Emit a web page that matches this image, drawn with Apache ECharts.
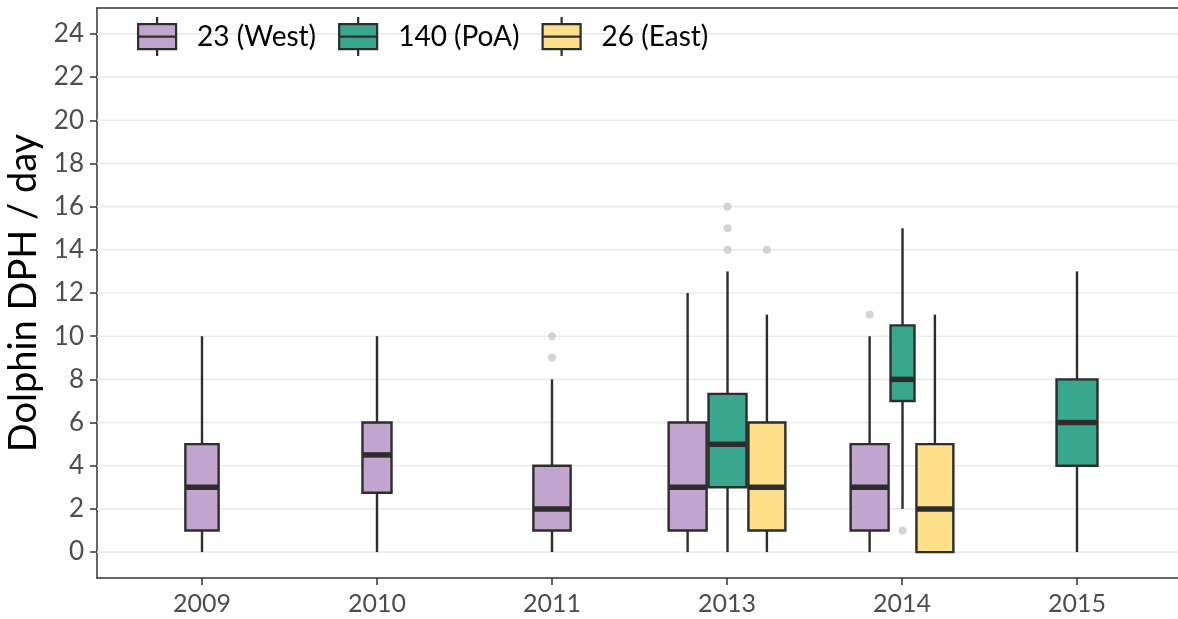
<!DOCTYPE html>
<html>
<head>
<meta charset="utf-8">
<script src="https://cdn.jsdelivr.net/npm/echarts@6/dist/echarts.min.js"></script>
<style>
html,body{margin:0;padding:0;background:#fff;}
#chart{width:1178px;height:619px;}
</style>
</head>
<body>
<div id="chart"></div>
<script>
// ---- data ----
const categories = ['2009', '2010', '2011', '2013', '2014', '2015'];
const groupNames = ['23 (West)', '140 (PoA)', '26 (East)'];
// [categoryIndex, min, q1, median, q3, max]
const westStats = [[0, 0, 1, 3, 5, 10], [1, 0, 2.75, 4.5, 6, 10], [2, 0, 1, 2, 4, 8], [3, 0, 1, 3, 6, 12], [4, 0, 1, 3, 5, 10]];
const poaStats = [[3, 0, 3, 5, 7.33, 13], [4, 2, 7, 8, 10.5, 15], [5, 0, 4, 6, 8, 13]];
const eastStats = [[3, 0, 1, 3, 6, 11], [4, 0, 0, 2, 5, 11]];
// [categoryIndex, value]
const westOutliers = [[2, 9], [2, 10], [4, 11]];
const poaOutliers = [[3, 14], [3, 15], [3, 16], [4, 1]];
const eastOutliers = [[3, 14]];
const yTicks = [0, 2, 4, 6, 8, 10, 12, 14, 16, 18, 20, 22, 24];
const xTicks = [0, 1, 2, 3, 4, 5];

// ---- styling ----
const colors = ['#C2A5CF', '#38A78E', '#FEE08B'];
const edge = '#2d2d2d';
// relative box widths (fraction of category spacing), per group per category index
const boxWidths = [
  {0: 0.19, 1: 0.166, 2: 0.213, 3: 0.217, 4: 0.217},
  {3: 0.217, 4: 0.137, 5: 0.234},
  {3: 0.211, 4: 0.211}
];
const dodgeGap = 0.011;
const allStats = [westStats, poaStats, eastStats];
const allOutliers = [westOutliers, poaOutliers, eastOutliers];
const X_MIN = -0.6, X_MAX = 5.6;

function centerOf(gi, cat) {
  const present = [];
  for (let g = 0; g < allStats.length; g++) {
    if (allStats[g].some(r => r[0] === cat)) present.push(g);
  }
  let total = 0;
  present.forEach((g, k) => { total += boxWidths[g][cat] + (k > 0 ? dodgeGap : 0); });
  let x = cat - total / 2;
  for (let k = 0; k < present.length; k++) {
    const g = present[k];
    const w = boxWidths[g][cat];
    if (g === gi) return x + w / 2;
    x += w + dodgeGap;
  }
  return cat;
}

function makeBoxSeries(gi) {
  return {
    name: groupNames[gi],
    type: 'custom',
    z: 3,
    itemStyle: {color: colors[gi]},
    encode: {x: 0, y: [1, 5]},
    data: allStats[gi],
    renderItem: function (params, api) {
      const cat = api.value(0);
      const mn = api.value(1), q1 = api.value(2), md = api.value(3), q3 = api.value(4), mx = api.value(5);
      const w = boxWidths[gi][cat];
      const xc = centerOf(gi, cat);
      const tl = api.coord([xc - w / 2, q3]);
      const br = api.coord([xc + w / 2, q1]);
      const pMax = api.coord([xc, mx]);
      const pMin = api.coord([xc, mn]);
      const pMed = api.coord([xc, md]);
      const lw = 2.4;
      return {
        type: 'group',
        children: [
          {type: 'line', shape: {x1: pMax[0], y1: pMax[1], x2: pMax[0], y2: tl[1]}, style: {stroke: edge, lineWidth: lw}},
          {type: 'line', shape: {x1: pMin[0], y1: br[1], x2: pMin[0], y2: pMin[1]}, style: {stroke: edge, lineWidth: lw}},
          {type: 'rect', shape: {x: tl[0], y: tl[1], width: br[0] - tl[0], height: br[1] - tl[1]}, style: {fill: colors[gi], stroke: edge, lineWidth: lw}},
          {type: 'line', shape: {x1: tl[0], y1: pMed[1], x2: br[0], y2: pMed[1]}, style: {stroke: edge, lineWidth: 5.5}}
        ]
      };
    }
  };
}

function makeOutlierSeries(gi) {
  return {
    name: groupNames[gi] + ' outliers',
    type: 'scatter',
    z: 4,
    symbol: 'circle',
    symbolSize: 8,
    itemStyle: {color: '#c9c9c9'},
    data: allOutliers[gi].map(r => [centerOf(gi, r[0]), r[1]])
  };
}

const font = 'Lato, "Open Sans", sans-serif';
const chart = echarts.init(document.getElementById('chart'), null, {renderer: 'canvas'});
chart.setOption({
  animation: false,
  backgroundColor: '#fff',
  textStyle: {fontFamily: font},
  grid: {left: 97, top: 8, width: 1085, height: 570, show: false, containLabel: false, outerBoundsMode: 'none'},
  legend: {
    data: groupNames,
    left: 137,
    top: 16,
    padding: 0,
    itemWidth: 38,
    itemHeight: 39,
    itemGap: 22,
    icon: 'path://M0,7L38,7L38,32L0,32Z M19,0L19,7 M19,32L19,39 M0,19.5L38,19.5',
    itemStyle: {borderColor: edge, borderWidth: 2.2},
    textStyle: {fontSize: 28, color: '#000', fontFamily: font, padding: [0, 0, 0, 16]},
    selectedMode: false
  },
  xAxis: [{
    type: 'value',
    min: X_MIN,
    max: X_MAX,
    splitLine: {show: false},
    axisLine: {show: true, onZero: false, lineStyle: {color: '#333', width: 1.5}},
    axisTick: {show: true, customValues: xTicks, length: 7, lineStyle: {color: '#333', width: 1.5}},
    axisLabel: {customValues: xTicks, formatter: v => categories[Math.round(v)], fontSize: 25, color: '#4d4d4d', margin: 13, fontFamily: font}
  }, {
    type: 'value',
    position: 'top',
    min: X_MIN,
    max: X_MAX,
    splitLine: {show: false},
    axisLine: {show: true, onZero: false, lineStyle: {color: '#333', width: 1.5}},
    axisTick: {show: false},
    axisLabel: {show: false}
  }],
  yAxis: {
    type: 'value',
    min: -1.2,
    max: 25.2,
    name: 'Dolphin DPH / day',
    nameLocation: 'middle',
    nameGap: 50,
    nameTextStyle: {fontSize: 38, color: '#000', fontFamily: font},
    splitLine: {show: false},
    axisLine: {show: true, onZero: false, lineStyle: {color: '#333', width: 1.5}},
    axisTick: {show: true, customValues: yTicks, length: 7, lineStyle: {color: '#333', width: 1.5}},
    axisLabel: {customValues: yTicks, fontSize: 26, color: '#4d4d4d', margin: 13, fontFamily: font}
  },
  series: [
    {
      name: 'gridlines',
      type: 'custom',
      z: 1,
      silent: true,
      encode: {y: 0},
      data: yTicks.map(v => [v]),
      renderItem: function (params, api) {
        const v = api.value(0);
        const a = api.coord([X_MIN, v]);
        const b = api.coord([X_MAX, v]);
        return {type: 'line', shape: {x1: a[0], y1: a[1], x2: b[0], y2: b[1]}, style: {stroke: '#ebebeb', lineWidth: 1.6}};
      }
    },
    makeBoxSeries(0), makeBoxSeries(1), makeBoxSeries(2),
    makeOutlierSeries(0), makeOutlierSeries(1), makeOutlierSeries(2)
  ]
});
</script>
</body>
</html>
